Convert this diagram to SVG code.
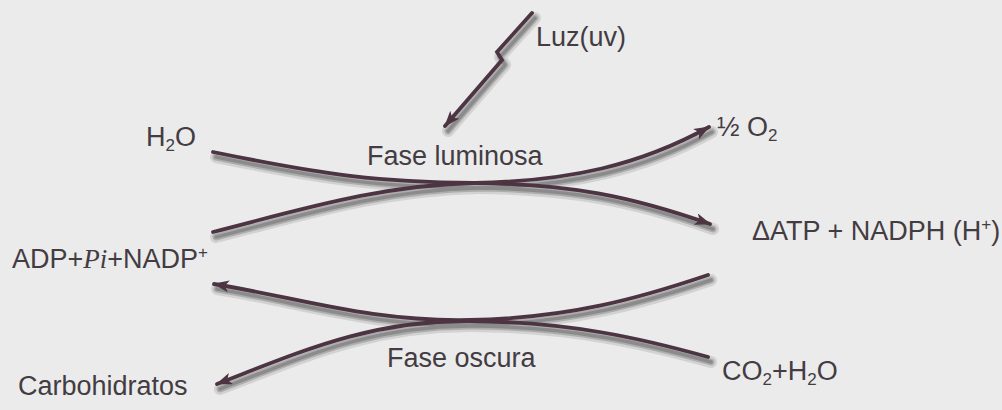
<svg xmlns="http://www.w3.org/2000/svg" width="1002" height="410" viewBox="0 0 1002 410">
<defs>
<style>
.t{font-family:"Liberation Sans",Arial,sans-serif;font-size:27px;fill:#433c42}
.sub{font-size:17px}
.ln{fill:none;stroke:#4c3442;stroke-width:3.8;stroke-linecap:round}
.s1{fill:none;stroke:#9a9a9a;stroke-width:12;stroke-linecap:round;stroke-linejoin:round;opacity:0.3}
.s2{fill:none;stroke:#8a8a8a;stroke-width:7;stroke-linecap:round;stroke-linejoin:round;opacity:0.5}
.s3{fill:none;stroke:#7a7a7a;stroke-width:3.5;stroke-linecap:round;stroke-linejoin:round;opacity:0.65}
</style>
<marker id="ah" viewBox="0 0 16 12" refX="15" refY="6" markerWidth="16" markerHeight="12" markerUnits="userSpaceOnUse" orient="auto">
<path d="M0,0 L16,6 L0,12 L4,6 Z" fill="#4c3442"/>
</marker>
<path id="pA" d="M213,152 C330,176 380,182 475,183 C570,184 630,196 710,224"/>
<path id="pB" d="M213,232 C300,210 380,185 475,183 C570,181 640,165 709,127"/>
<path id="pC" d="M708,275 C640,298 570,318 470,320 C370,322 300,298 214,284"/>
<path id="pD" d="M708,357 C640,338 570,322 470,321 C370,320 300,352 217,384"/>
<path id="pL" d="M532,13 L497,52 L502,60 L445,126"/>
<g id="allp">
<use href="#pA"/><use href="#pB"/><use href="#pC"/><use href="#pD"/><use href="#pL"/>
</g>
</defs>
<rect width="1002" height="410" fill="#ebebeb"/>
<g id="connectors">
<g transform="translate(3,5)">
<use href="#allp" class="s1"/>
<use href="#allp" class="s2"/>
<use href="#allp" class="s3"/>
</g>
<use href="#pA" class="ln" marker-end="url(#ah)"/>
<use href="#pB" class="ln" marker-end="url(#ah)"/>
<use href="#pC" class="ln" marker-end="url(#ah)"/>
<use href="#pD" class="ln" marker-end="url(#ah)"/>
<use href="#pL" class="ln" marker-end="url(#ah)"/>
</g>
<g id="n-luz"><text class="t" x="536" y="46">Luz(uv)</text></g>
<g id="n-h2o"><text class="t" x="146" y="146">H<tspan class="sub" dy="5">2</tspan><tspan dy="-5">O</tspan></text></g>
<g id="n-o2"><text class="t" x="717" y="136">½ O<tspan class="sub" dy="5">2</tspan></text></g>
<g id="n-fl"><text class="t" x="367" y="165">Fase luminosa</text></g>
<g id="n-atp"><text class="t" x="752" y="240">ΔATP + NADPH (H<tspan class="sub" dy="-10">+</tspan><tspan dy="10">)</tspan></text></g>
<g id="n-adp"><text class="t" x="12" y="268">ADP+<tspan font-family="Liberation Serif,serif" font-style="italic">Pi</tspan>+NADP<tspan class="sub" dy="-10">+</tspan></text></g>
<g id="n-fo"><text class="t" x="387" y="367">Fase oscura</text></g>
<g id="n-carb"><text class="t" x="18" y="395">Carbohidratos</text></g>
<g id="n-co2"><text class="t" x="722" y="380">CO<tspan class="sub" dy="5">2</tspan><tspan dy="-5">+H</tspan><tspan class="sub" dy="5">2</tspan><tspan dy="-5">O</tspan></text></g>
</svg>
